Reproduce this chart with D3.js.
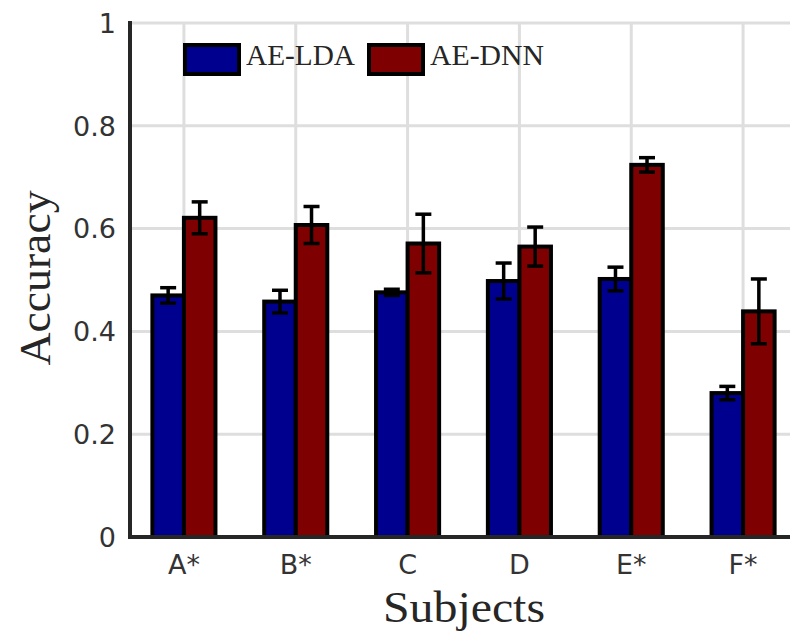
<!DOCTYPE html>
<html>
<head>
<meta charset="utf-8">
<script src="https://cdn.jsdelivr.net/npm/d3@7/dist/d3.min.js"></script>
<style>
  html, body { margin: 0; padding: 0; background: #fff; }
  svg { display: block; }
</style>
</head>
<body>
<svg id="chart" width="790" height="632"></svg>
<script>
// Per-subject accuracy for the two models (mean and error-bar half-width)
const subjects = ["A*", "B*", "C", "D", "E*", "F*"];
const seriesNames = ["AE-LDA", "AE-DNN"];
const ldaMean = [0.470, 0.458, 0.476, 0.498, 0.502, 0.280];
const ldaErr  = [0.015, 0.022, 0.006, 0.035, 0.023, 0.013];
const dnnMean = [0.621, 0.607, 0.571, 0.565, 0.724, 0.439];
const dnnErr  = [0.031, 0.036, 0.057, 0.038, 0.014, 0.063];
const yTicks = [0, 0.2, 0.4, 0.6, 0.8, 1];
const colors = ["#00008f", "#7f0000"];

const svg = d3.select("#chart");

const x = d3.scaleLinear().domain([0.5, 6.5]).range([128, 799]);
const y = d3.scaleLinear().domain([0, 1]).range([537, 23]);
const barW = 0.282; // bar width in x units

// grid
const grid = svg.append("g").attr("stroke", "#dedede").attr("stroke-width", 3);
grid.selectAll("line.h").data(yTicks.filter(d => d > 0)).join("line")
  .attr("x1", x(0.5)).attr("x2", 790)
  .attr("y1", d => y(d)).attr("y2", d => y(d));
grid.selectAll("line.v").data(subjects).join("line")
  .attr("x1", (d, i) => x(i + 1)).attr("x2", (d, i) => x(i + 1))
  .attr("y1", y(1)).attr("y2", y(0));

// bars
const series = [
  { name: seriesNames[0], mean: ldaMean, err: ldaErr, off: -barW },
  { name: seriesNames[1], mean: dnnMean, err: dnnErr, off: 0 }
];
series.forEach((s, si) => {
  const g = svg.append("g");
  g.selectAll("rect").data(s.mean).join("rect")
    .attr("x", (d, i) => x(i + 1 + s.off))
    .attr("width", x(1 + barW) - x(1))
    .attr("y", d => y(d))
    .attr("height", d => y(0) - y(d))
    .attr("fill", colors[si])
    .attr("stroke", "#000")
    .attr("stroke-width", 4);
});

// error bars
series.forEach(s => {
  const g = svg.append("g").attr("stroke", "#000").attr("stroke-width", 3.5);
  s.mean.forEach((m, i) => {
    const cx = x(i + 1 + s.off + barW / 2);
    const top = y(m + s.err[i]), bot = y(m - s.err[i]);
    g.append("line").attr("x1", cx).attr("x2", cx).attr("y1", top).attr("y2", bot);
    g.append("line").attr("x1", cx - 8).attr("x2", cx + 8).attr("y1", top).attr("y2", top);
    g.append("line").attr("x1", cx - 8).attr("x2", cx + 8).attr("y1", bot).attr("y2", bot);
  });
});

// axes lines
svg.append("line").attr("x1", 130).attr("x2", 130).attr("y1", 21).attr("y2", 539)
  .attr("stroke", "#262626").attr("stroke-width", 4);
svg.append("line").attr("x1", 128).attr("x2", 790).attr("y1", 537).attr("y2", 537)
  .attr("stroke", "#262626").attr("stroke-width", 4);

// y tick labels
svg.append("g").selectAll("text").data(yTicks).join("text")
  .attr("x", 116).attr("y", d => y(d))
  .attr("dy", "0.36em")
  .attr("text-anchor", "end")
  .attr("font-family", "DejaVu Sans")
  .attr("font-size", 27)
  .attr("fill", "#333")
  .text(d => d3.format("~g")(d));

// x tick labels
svg.append("g").selectAll("text").data(subjects).join("text")
  .attr("x", (d, i) => x(i + 1)).attr("y", 574)
  .attr("text-anchor", "middle")
  .attr("font-family", "DejaVu Sans")
  .attr("font-size", 27)
  .attr("fill", "#333")
  .text(d => d);

// axis titles
svg.append("text")
  .attr("x", 464).attr("y", 622)
  .attr("text-anchor", "middle")
  .attr("font-family", "Liberation Serif")
  .attr("font-size", 44)
  .attr("textLength", 162).attr("lengthAdjust", "spacingAndGlyphs")
  .attr("fill", "#262626")
  .text("Subjects");
svg.append("text")
  .attr("transform", "translate(50,278) rotate(-90)")
  .attr("text-anchor", "middle")
  .attr("font-family", "Liberation Serif")
  .attr("font-size", 44)
  .attr("textLength", 175).attr("lengthAdjust", "spacingAndGlyphs")
  .attr("fill", "#262626")
  .text("Accuracy");

// legend
const legendX = [185, 369];
const leg = svg.append("g");
seriesNames.forEach((name, i) => {
  leg.append("rect")
    .attr("x", legendX[i]).attr("y", 45)
    .attr("width", 54).attr("height", 29)
    .attr("fill", colors[i]).attr("stroke", "#000").attr("stroke-width", 4);
  leg.append("text")
    .attr("x", legendX[i] + 61).attr("y", 65)
    .attr("font-family", "Liberation Serif")
    .attr("font-size", 29)
    .attr("textLength", i === 0 ? 109 : 114).attr("lengthAdjust", "spacingAndGlyphs")
    .attr("fill", "#262626")
    .text(name);
});
</script>
</body>
</html>
